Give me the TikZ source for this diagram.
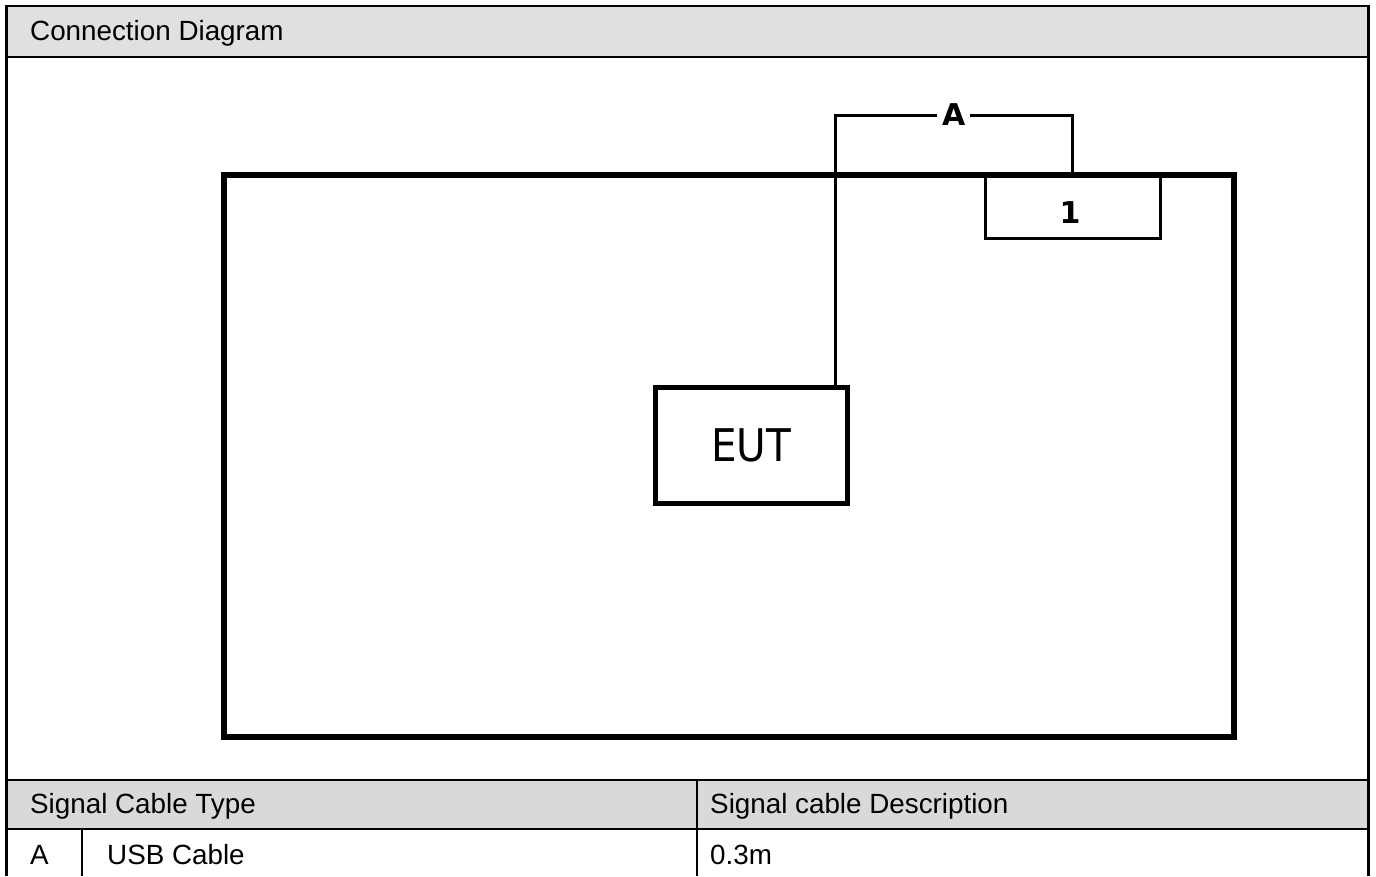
\documentclass[tikz,border=0pt]{standalone}
\usepackage{fontspec}
\setmainfont{Liberation Sans}
\newfontfamily\eutfont{DejaVu Sans Condensed}
\newfontfamily\lblfont{DejaVu Sans}
\definecolor{hdrgray}{HTML}{E0E0E0}
\definecolor{tblgray}{HTML}{D9D9D9}
\begin{document}
\begin{tikzpicture}[x=1pt,y=-1pt,
  cell/.style={anchor=west,inner sep=0pt,font=\fontsize{27.8}{32}\selectfont},
  thick box/.style={draw,line width=5pt,inner sep=0pt},
  cable/.style={line width=3pt,line cap=rect},
  lbl/.style={font=\lblfont\bfseries\fontsize{30}{34}\selectfont,inner sep=0pt}]
\useasboundingbox (0,0) rectangle (1376,876);
% header bands
\fill[hdrgray] (6,7) rectangle (1368,56);
\fill[tblgray] (6,780) rectangle (1368,829);
% frame lines
\draw[line width=2pt] (5,6) -- (1370,6);
\draw[line width=1.8pt] (6,57) -- (1368,57);
\draw[line width=1.8pt] (6,780) -- (1368,780);
\draw[line width=1.8pt] (6,829) -- (1368,829);
\draw[line width=3pt] (6.5,5) -- (6.5,876);
\draw[line width=3pt] (1368.5,5) -- (1368.5,876);
\draw[line width=1.8pt] (697,780) -- (697,876);
\draw[line width=1.8pt] (82,829) -- (82,876);
% texts
\node[cell] (t0) at (30,33.5) {Connection Diagram};
\node[cell] (t1) at (30,806.5) {Signal Cable Type};
\node[cell] (t2) at (710,806.5) {Signal cable Description};
\node[cell] (t3) at (30,854.5) {A};
\node[cell] (t4) at (107,854.5) {USB Cable};
\node[cell] (t5) at (710,854.5) {0.3m};
% diagram
\node[draw,line width=6pt,minimum width=1010pt,minimum height=562.5pt,inner sep=0pt] (room) at (729,455.75) {};
\node[draw,line width=3pt,minimum width=175pt,minimum height=64pt,inner sep=0pt] (box1) at (1072.5,206) {};
\node[lbl] (one) at (1070,213) {1};
\node[thick box,minimum width=192pt,minimum height=116pt,font=\eutfont\fontsize{45}{50}\selectfont] (eut) at (751,445) {EUT};
\coordinate (c1) at (835,115);
\draw[cable] (eut.north -| c1) -- (c1) -- (c1 -| box1.north)
  node[lbl,pos=0.5,fill=white,inner xsep=5pt,inner ysep=2pt] (cA) {A}
  -- (box1.north);
\end{tikzpicture}
\end{document}
